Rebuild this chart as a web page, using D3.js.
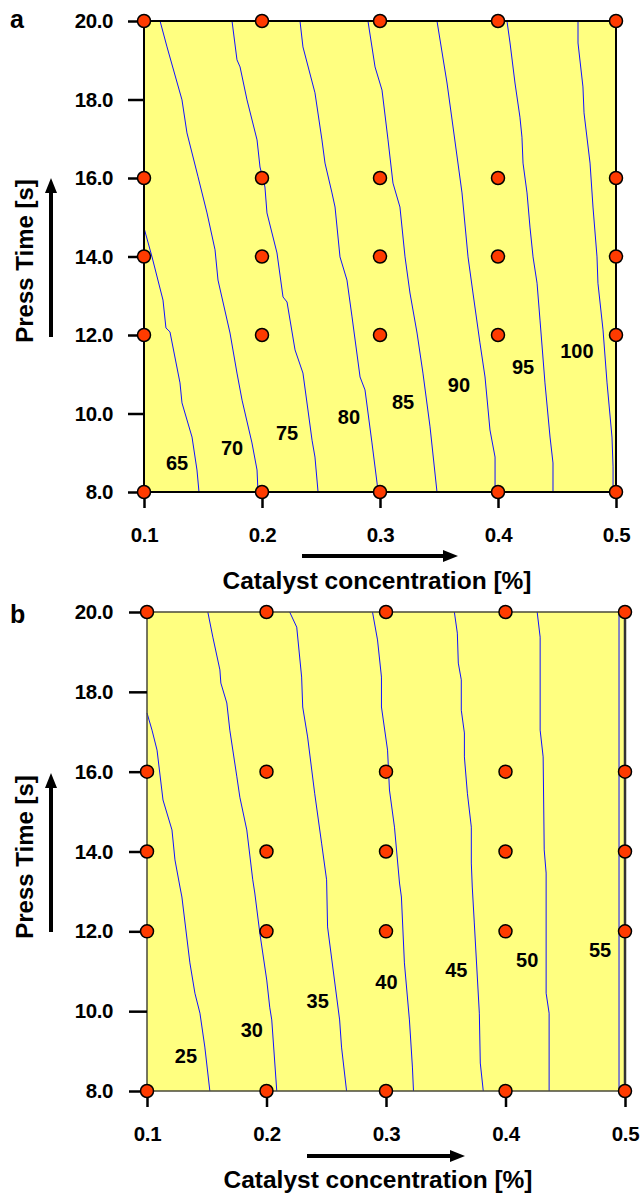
<!DOCTYPE html>
<html>
<head>
<meta charset="utf-8">
<script src="https://cdn.jsdelivr.net/npm/d3@7"></script>
<style>
  body { margin: 0; background: #fff; }
  svg { display: block; font-family: "Liberation Sans", Arial, Helvetica, sans-serif; font-weight: bold; }
</style>
</head>
<body>
<svg id="chart" width="643" height="1194"></svg>
<script>
// design points (catalyst %, press time s)
const concentrations = [0.1, 0.2, 0.3, 0.4, 0.5];
const pressTimes = [8, 12, 14, 16, 20];
const xTicks = [0.1, 0.2, 0.3, 0.4, 0.5];
const yTicks = [8, 10, 12, 14, 16, 18, 20];

// panel a: contour levels, traced lines [conc, time], label anchors
const levelsA = [65, 70, 75, 80, 85, 90, 95, 100];
const contoursA = [
  [[0.100,14.73],[0.1068,13.99],[0.1161,12.89],[0.1186,12.18],[0.1220,12.08],[0.1305,10.78],[0.1322,10.27],[0.1407,9.40],[0.1449,8.56],[0.1466,8.00]],
  [[0.1136,20.00],[0.1195,19.34],[0.1322,17.99],[0.1364,17.15],[0.1458,16.03],[0.1534,15.11],[0.1602,14.17],[0.1627,13.40],[0.1729,12.05],[0.1788,11.03],[0.1831,10.34],[0.1915,9.25],[0.1958,8.56],[0.1966,8.00]],
  [[0.1746,20.00],[0.1788,19.01],[0.1814,18.83],[0.1873,17.99],[0.1958,16.97],[0.1983,16.28],[0.2025,15.77],[0.2042,15.11],[0.2127,14.09],[0.2178,12.97],[0.2212,12.84],[0.2280,11.62],[0.2347,11.03],[0.2424,9.32],[0.2449,8.89],[0.2475,8.00]],
  [[0.2322,20.00],[0.2347,19.34],[0.2449,18.17],[0.2508,16.97],[0.2534,16.38],[0.2593,15.62],[0.2619,15.26],[0.2661,13.99],[0.2720,13.40],[0.2763,12.46],[0.2831,10.93],[0.2873,10.60],[0.2932,9.25],[0.2975,8.23],[0.2983,8.00]],
  [[0.2898,20.00],[0.2958,18.83],[0.3017,18.24],[0.3068,16.97],[0.3110,15.87],[0.3169,15.26],[0.3212,13.99],[0.3254,13.07],[0.3314,12.05],[0.3364,11.03],[0.3424,9.66],[0.3483,8.00]],
  [[0.3483,20.00],[0.3568,18.42],[0.3619,17.30],[0.3695,15.62],[0.3746,13.99],[0.3788,13.07],[0.3847,11.80],[0.3890,10.93],[0.3932,9.58],[0.3975,8.89],[0.3975,8.00]],
  [[0.4076,20.00],[0.4102,19.44],[0.4144,18.42],[0.4186,17.55],[0.4203,17.04],[0.4212,16.38],[0.4246,15.62],[0.4271,14.75],[0.4297,13.99],[0.4331,13.32],[0.4356,12.38],[0.4398,10.78],[0.4441,9.40],[0.4466,8.74],[0.4466,8.00]],
  [[0.4678,20.00],[0.4678,19.44],[0.4720,18.32],[0.4729,17.66],[0.4780,16.38],[0.4805,15.26],[0.4839,13.99],[0.4847,13.32],[0.4890,12.13],[0.4924,10.78],[0.4966,9.40],[0.4975,8.64],[0.4975,8.00]]
];
const labelPosA = [[0.128,8.74],[0.1746,9.12],[0.2212,9.50],[0.2737,9.91],[0.3195,10.29],[0.3669,10.73],[0.4212,11.18],[0.4669,11.59]];

// panel b
const levelsB = [25, 30, 35, 40, 45, 50, 55];
const contoursB = [
  [[0.1000,17.47],[0.1042,17.04],[0.1084,16.54],[0.1134,15.29],[0.1209,14.54],[0.1234,13.79],[0.1276,13.11],[0.1292,12.86],[0.1359,11.21],[0.1401,10.45],[0.1443,9.95],[0.1484,9.10],[0.1526,8.00]],
  [[0.1509,20.00],[0.1551,19.37],[0.1610,18.55],[0.1618,18.22],[0.1668,17.72],[0.1693,17.04],[0.1752,15.87],[0.1777,15.36],[0.1835,14.54],[0.1885,13.29],[0.1902,12.96],[0.1944,11.96],[0.2002,10.78],[0.2027,10.10],[0.2044,9.78],[0.2086,8.00]],
  [[0.2194,20.00],[0.2253,19.62],[0.2294,18.37],[0.2303,17.62],[0.2344,16.87],[0.2403,15.46],[0.2461,14.21],[0.2503,13.29],[0.2511,12.11],[0.2612,9.78],[0.2628,9.10],[0.2670,8.00]],
  [[0.2887,20.00],[0.2929,19.30],[0.2962,18.37],[0.2962,17.62],[0.3013,16.54],[0.3029,15.54],[0.3071,14.61],[0.3113,13.21],[0.3129,12.86],[0.3154,11.21],[0.3196,9.78],[0.3221,8.60],[0.3230,8.00]],
  [[0.3572,20.00],[0.3597,19.47],[0.3605,18.72],[0.3630,18.30],[0.3630,17.54],[0.3656,16.97],[0.3656,16.37],[0.3681,15.46],[0.3714,14.61],[0.3714,13.71],[0.3722,13.11],[0.3739,12.21],[0.3781,9.95],[0.3789,8.70],[0.3814,8.00]],
  [[0.4265,20.00],[0.4290,19.37],[0.4290,17.04],[0.4315,16.37],[0.4324,14.04],[0.4340,13.46],[0.4340,10.45],[0.4365,9.95],[0.4365,8.00]],
  [[0.4950,20.00],[0.4950,8.00]]
];
const labelPosB = [[0.1326,8.88],[0.1877,9.53],[0.2428,10.25],[0.3004,10.73],[0.3589,11.03],[0.4182,11.28],[0.4791,11.53]];

const xTitle = "Catalyst concentration [%]";
const yTitle = "Press Time [s]";

const svg = d3.select("#chart");
svg.append("rect").attr("width", 643).attr("height", 1194).attr("fill", "#fff");

function drawPanel(p) {
  const x = d3.scaleLinear().domain([0.1, 0.5]).range([p.left, p.right]);
  const y = d3.scaleLinear().domain([8, 20]).range([p.bottom, p.top]);
  const g = svg.append("g");

  g.append("rect")
    .attr("x", p.left).attr("y", p.top)
    .attr("width", p.right - p.left).attr("height", p.bottom - p.top)
    .attr("fill", "#ffff80");

  const line = d3.line().x(d => x(d[0])).y(d => y(d[1]));
  g.selectAll(".contour").data(p.contours).join("path")
    .attr("fill", "none").attr("stroke", "#1010ff").attr("stroke-width", 1)
    .attr("d", line);

  g.selectAll(".lvl").data(p.levels).join("text")
    .attr("x", (d, i) => x(p.labels[i][0]))
    .attr("y", (d, i) => y(p.labels[i][1]))
    .attr("dy", "0.36em")
    .attr("text-anchor", "middle")
    .attr("font-size", 20)
    .text(d => d);

  // frame
  g.append("rect")
    .attr("x", p.left).attr("y", p.top)
    .attr("width", p.right - p.left).attr("height", p.bottom - p.top)
    .attr("fill", "none").attr("stroke", p.frame).attr("stroke-width", p.frameW);
  if (p.rightEdge) {
    g.append("line").attr("x1", p.right).attr("x2", p.right)
      .attr("y1", p.top).attr("y2", p.bottom + 1)
      .attr("stroke", "#333").attr("stroke-width", 2.5);
  }

  const yAxis = g.append("g")
    .attr("transform", `translate(${p.left},0)`)
    .call(d3.axisLeft(y).tickValues(yTicks).tickFormat(d3.format(".1f")).tickSize(p.yTick).tickPadding(p.yPad));
  const xAxis = g.append("g")
    .attr("transform", `translate(0,${p.bottom})`)
    .call(d3.axisBottom(x).tickValues(xTicks).tickFormat(d3.format(".1f")).tickSize(16).tickPadding(19));
  [xAxis, yAxis].forEach(a => {
    a.select(".domain").remove();
    a.selectAll("line").attr("stroke", "#000").attr("stroke-width", 2.5);
    a.selectAll("text").attr("fill", "#000").attr("font-size", 20.5)
      .attr("font-family", "Liberation Sans, Arial, sans-serif").attr("font-weight", "bold")
      .attr("letter-spacing", -0.4);
  });

  // design points
  const pts = d3.cross(concentrations, pressTimes);
  g.selectAll(".pt").data(pts).join("circle")
    .attr("cx", d => x(d[0])).attr("cy", d => y(d[1])).attr("r", 6.5)
    .attr("fill", "#ff3b00").attr("stroke", "#000").attr("stroke-width", 1.5);

  // panel letter
  g.append("text").attr("x", 10).attr("y", p.top + p.letterDy)
    .attr("font-size", 25).text(p.letter);

  // axis titles
  g.append("text").attr("x", p.xTitleX).attr("y", p.bottom + p.xTitleDy)
    .attr("text-anchor", "middle").attr("font-size", 24.5)
    .text(xTitle);
  g.append("text").attr("transform", `translate(33,${p.yTitleY}) rotate(-90)`)
    .attr("text-anchor", "middle").attr("font-size", 24)
    .text(yTitle);

  // arrows
  const ay = p.bottom + p.arrowDy;
  g.append("line").attr("x1", p.xArrow[0]).attr("x2", p.xArrow[1] - 12)
    .attr("y1", ay).attr("y2", ay).attr("stroke", "#000").attr("stroke-width", 4);
  g.append("path")
    .attr("d", `M${p.xArrow[1]},${ay} L${p.xArrow[1] - 15},${ay - 6} L${p.xArrow[1] - 15},${ay + 6} Z`)
    .attr("fill", "#000");
  g.append("line").attr("x1", 51).attr("x2", 51)
    .attr("y1", p.yArrow[0]).attr("y2", p.yArrow[1] + 12)
    .attr("stroke", "#000").attr("stroke-width", 4);
  g.append("path")
    .attr("d", `M51,${p.yArrow[1]} L45,${p.yArrow[1] + 15} L57,${p.yArrow[1] + 15} Z`)
    .attr("fill", "#000");
}

drawPanel({
  left: 144, right: 616, top: 21, bottom: 492,
  contours: contoursA, levels: levelsA, labels: labelPosA,
  frame: "#000", frameW: 2, rightEdge: false,
  yTick: 16, yPad: 15, letter: "a", letterDy: 7,
  xTitleX: 377, xTitleDy: 97, yTitleY: 261,
  arrowDy: 64, xArrow: [302, 458], yArrow: [337, 178]
});

drawPanel({
  left: 147, right: 625, top: 612, bottom: 1091,
  contours: contoursB, levels: levelsB, labels: labelPosB,
  frame: "#4a4a3a", frameW: 1.5, rightEdge: true,
  yTick: 18, yPad: 16, letter: "b", letterDy: 11,
  xTitleX: 378, xTitleDy: 97, yTitleY: 857,
  arrowDy: 65, xArrow: [307, 465], yArrow: [932, 773]
});
</script>
</body>
</html>
